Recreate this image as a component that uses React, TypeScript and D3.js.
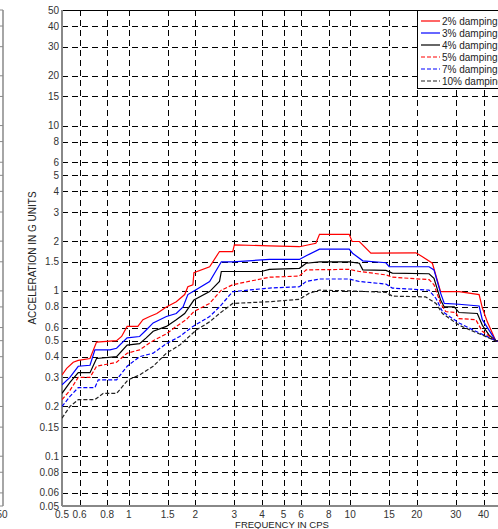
import React, { useEffect, useRef } from "react";
import * as d3 from "d3";

// tick values (log axes)
const xTicks = [0.5, 0.6, 0.8, 1, 1.5, 2, 3, 4, 5, 6, 8, 10, 15, 20, 30, 40, 50];
const yTicks = [0.05, 0.06, 0.08, 0.1, 0.15, 0.2, 0.3, 0.4, 0.5, 0.6, 0.8, 1, 1.5, 2, 3, 4, 5, 6, 8, 10, 15, 20, 30, 40, 50];

// [frequency cps, acceleration g]
const damping2 = [[0.5,0.31],[0.525,0.34],[0.562,0.37],[0.592,0.38],[0.669,0.39],[0.716,0.49],[0.882,0.5],[0.929,0.53],[0.984,0.61],[1.1,0.61],[1.16,0.67],[1.245,0.7],[1.34,0.73],[1.48,0.8],[1.64,0.86],[1.79,0.95],[1.85,1.06],[1.95,1.09],[1.97,1.29],[2.32,1.4],[2.57,1.73],[2.95,1.73],[3.0,1.9],[4.32,1.87],[5.9,1.85],[7.0,1.94],[7.27,2.2],[9.9,2.2],[10.2,1.99],[11.0,1.99],[12.4,1.69],[19.8,1.7],[21.2,1.61],[23.5,1.47],[25.6,0.99],[31.0,0.99],[38.2,0.95],[39.5,0.79],[41.6,0.65],[45.4,0.5],[50,0.49]];
const damping3 = [[0.5,0.27],[0.543,0.3],[0.592,0.35],[0.669,0.355],[0.704,0.44],[0.823,0.44],[0.882,0.45],[0.984,0.52],[1.12,0.53],[1.2,0.58],[1.29,0.64],[1.48,0.7],[1.64,0.73],[1.76,0.8],[1.85,0.95],[1.97,1.0],[2.32,1.14],[2.62,1.5],[2.95,1.5],[4.32,1.55],[5.9,1.55],[6.33,1.63],[7.27,1.79],[9.9,1.79],[10.25,1.69],[11.4,1.52],[14.5,1.48],[15.0,1.4],[22.7,1.4],[23.9,1.34],[25.6,0.97],[26.6,0.84],[31.0,0.83],[38.2,0.81],[39.5,0.67],[45.4,0.5],[50,0.49]];
const damping4 = [[0.5,0.24],[0.543,0.28],[0.592,0.32],[0.669,0.32],[0.716,0.39],[0.882,0.4],[0.984,0.47],[1.12,0.48],[1.2,0.52],[1.29,0.57],[1.48,0.61],[1.64,0.67],[1.79,0.73],[1.97,0.88],[2.32,0.99],[2.57,1.14],[2.62,1.31],[3.97,1.31],[4.32,1.35],[5.9,1.37],[6.33,1.47],[7.27,1.5],[9.9,1.5],[11.0,1.47],[11.4,1.34],[14.5,1.33],[15.5,1.28],[22.7,1.27],[23.9,1.19],[25.6,0.88],[26.6,0.8],[29.5,0.8],[31.0,0.74],[37.5,0.73],[39.5,0.62],[42.4,0.54],[45.4,0.5],[50,0.49]];
const damping5 = [[0.5,0.22],[0.543,0.25],[0.592,0.3],[0.669,0.3],[0.716,0.35],[0.882,0.37],[0.984,0.42],[1.12,0.44],[1.29,0.5],[1.48,0.55],[1.64,0.61],[1.82,0.67],[1.97,0.75],[2.32,0.84],[2.62,1.01],[2.95,1.09],[4.32,1.21],[5.9,1.23],[6.33,1.34],[9.9,1.35],[11.0,1.31],[14.5,1.25],[15.5,1.21],[22.7,1.17],[23.9,1.09],[25.6,0.84],[27.0,0.75],[30.0,0.74],[31.0,0.68],[36.9,0.67],[39.5,0.57],[45.4,0.5],[50,0.49]];
const damping7 = [[0.5,0.2],[0.543,0.23],[0.592,0.26],[0.704,0.26],[0.729,0.29],[0.882,0.29],[0.984,0.35],[1.12,0.4],[1.29,0.42],[1.48,0.48],[1.7,0.53],[1.95,0.61],[2.32,0.7],[2.57,0.8],[2.95,0.99],[4.32,1.04],[5.9,1.06],[6.33,1.14],[7.27,1.18],[9.9,1.18],[11.0,1.14],[14.5,1.1],[15.5,1.04],[22.7,1.01],[24.4,0.9],[26.1,0.75],[31.0,0.64],[36.9,0.57],[45.4,0.5],[50,0.49]];
const damping10 = [[0.5,0.17],[0.543,0.2],[0.592,0.22],[0.704,0.22],[0.768,0.24],[0.882,0.24],[0.995,0.29],[1.12,0.31],[1.29,0.35],[1.48,0.42],[1.7,0.47],[2.02,0.58],[2.32,0.65],[2.57,0.73],[2.95,0.84],[4.32,0.86],[5.9,0.89],[6.55,0.97],[7.27,1.01],[9.9,1.0],[14.5,0.98],[15.5,0.93],[21.9,0.92],[24.4,0.84],[26.1,0.73],[31.0,0.62],[38.2,0.55],[45.4,0.5],[50,0.49]];

const seriesNames = ["2% damping", "3% damping", "4% damping", "5% damping", "7% damping", "10% damping"];
const seriesData = [damping2, damping3, damping4, damping5, damping7, damping10];
const seriesColors = ["#ff0000", "#0000ff", "#000000", "#ff0000", "#0000ff", "#222222"];
const seriesDash = [null, null, null, "4,2", "4,2", "4,2"];

const App = () => {
  const ref = useRef<SVGSVGElement>(null);

  useEffect(() => {
    document.body.style.margin = "0";
    const svg = d3.select(ref.current);
    svg.selectAll("*").remove();

    const left = 62, right = 505, top = 10, bottom = 506;
    const font = "'Liberation Sans', Arial, sans-serif";

    const x = d3.scaleLog().domain([0.5, 50]).range([left, right]);
    const y = d3.scaleLog().domain([0.05, 50]).range([bottom, top]);

    svg.append("rect").attr("width", 498).attr("height", 529).attr("fill", "#fff");

    // piece of neighbouring plot on the far left
    svg.append("line").attr("x1", 3).attr("x2", 3).attr("y1", top).attr("y2", bottom)
      .attr("stroke", "#888").attr("stroke-width", 1.5);
    svg.selectAll(".ltick").data(yTicks).enter().append("line")
      .attr("x1", 0).attr("x2", 3).attr("y1", (d) => y(d)).attr("y2", (d) => y(d))
      .attr("stroke", "#888");
    svg.append("text").attr("x", 2).attr("y", 518).attr("text-anchor", "middle")
      .style("font-family", font).style("font-size", "10px").attr("fill", "#333").text("50");

    svg.append("clipPath").attr("id", "plotClip").append("rect")
      .attr("x", left).attr("y", top).attr("width", right - left).attr("height", bottom - top);

    const grid = svg.append("g").attr("stroke", "#000").attr("stroke-dasharray", "6,4").attr("stroke-width", 1);
    grid.selectAll(".gx").data(xTicks.slice(1)).enter().append("line")
      .attr("x1", (d) => Math.round(x(d)) + 0.5).attr("x2", (d) => Math.round(x(d)) + 0.5)
      .attr("y1", top).attr("y2", bottom);
    grid.selectAll(".gy").data(yTicks.slice(1, -1)).enter().append("line")
      .attr("x1", left).attr("x2", right)
      .attr("y1", (d) => Math.round(y(d)) + 0.5).attr("y2", (d) => Math.round(y(d)) + 0.5);

    // frame
    svg.append("line").attr("x1", left).attr("x2", right).attr("y1", top + 0.5).attr("y2", top + 0.5)
      .attr("stroke", "#000");
    svg.append("line").attr("x1", left).attr("x2", left).attr("y1", top).attr("y2", bottom)
      .attr("stroke", "#888").attr("stroke-width", 2);
    svg.append("line").attr("x1", left).attr("x2", right).attr("y1", bottom).attr("y2", bottom)
      .attr("stroke", "#888").attr("stroke-width", 2);

    const line = d3.line<number[]>().x((d) => x(d[0])).y((d) => y(d[1]));
    const curves = svg.append("g").attr("clip-path", "url(#plotClip)");
    seriesData.forEach((data, i) => {
      curves.append("path").attr("d", line(data) as string)
        .attr("fill", "none").attr("stroke", seriesColors[i]).attr("stroke-width", 1.2)
        .attr("stroke-dasharray", seriesDash[i]);
    });

    // tick labels
    svg.selectAll(".ylab").data(yTicks).enter().append("text")
      .attr("x", left - 3).attr("y", (d) => y(d) + 3.5).attr("text-anchor", "end")
      .style("font-family", font).style("font-size", "10px").attr("fill", "#333")
      .text((d) => String(d));
    svg.selectAll(".xlab").data(xTicks.filter((d) => x(d) < 495)).enter().append("text")
      .attr("x", (d) => x(d)).attr("y", 517.5).attr("text-anchor", "middle")
      .style("font-family", font).style("font-size", "10px").attr("fill", "#333")
      .text((d) => String(d));

    svg.append("text").attr("x", 282).attr("y", 528).attr("text-anchor", "middle")
      .style("font-family", font).style("font-size", "9.5px").attr("fill", "#222")
      .text("FREQUENCY IN CPS");
    svg.append("text").attr("transform", "translate(36,258) rotate(-90)").attr("text-anchor", "middle")
      .style("font-family", font).style("font-size", "10px").attr("fill", "#222")
      .text("ACCELERATION IN G UNITS");

    // legend
    const legend = svg.append("g");
    legend.append("rect").attr("x", 417.5).attr("y", 10.5).attr("width", 100).attr("height", 78)
      .attr("fill", "#fff").attr("stroke", "#000");
    seriesNames.forEach((name, i) => {
      const ly = 21 + i * 12;
      legend.append("line").attr("x1", 421).attr("x2", 440).attr("y1", ly).attr("y2", ly)
        .attr("stroke", seriesColors[i]).attr("stroke-width", 1.2).attr("stroke-dasharray", seriesDash[i]);
      legend.append("text").attr("x", 442).attr("y", ly + 3.5)
        .style("font-family", font).style("font-size", "10px").attr("fill", "#222").text(name);
    });
  }, []);

  return (
    <svg ref={ref} width={498} height={529} style={{ position: "absolute", left: 0, top: 0, overflow: "hidden" }} />
  );
};

export default App;
